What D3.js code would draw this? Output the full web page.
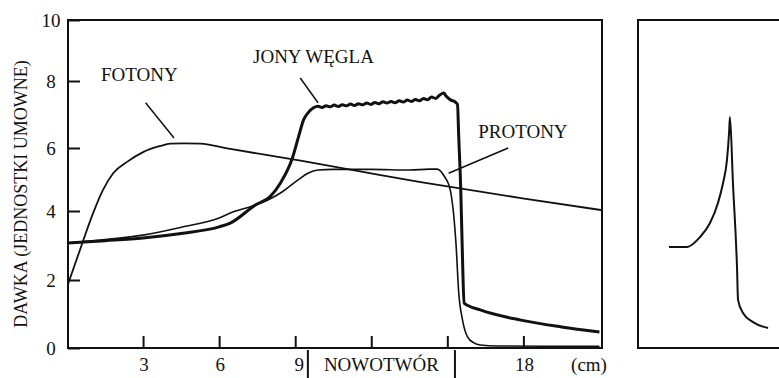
<!DOCTYPE html>
<html>
<head>
<meta charset="utf-8">
<script src="https://cdn.jsdelivr.net/npm/d3@7"></script>
<style>
  body { margin: 0; background: #fff; }
</style>
</head>
<body>
<script>
// depth in cm, dose in arbitrary units
let fotonyX = [0.05, 0.5, 1.03, 1.42, 1.82, 2.37, 3.0, 3.68, 4.07, 4.6, 5.26, 6.44, 9.21, 12.37, 13.95, 17.9, 21.07];
let fotonyY = [1.9, 2.85, 3.94, 4.67, 5.2, 5.56, 5.87, 6.06, 6.13, 6.14, 6.13, 5.97, 5.6, 5.14, 4.92, 4.41, 4.03];

let weglaX = [0, 1.5, 3, 4.5, 6, 6.44, 7.43, 8.0, 8.42, 8.89, 9.13, 9.33, 9.53, 9.72,
              9.90, 10.06, 10.22, 10.38, 10.54, 10.70, 10.86, 11.02, 11.18, 11.34, 11.50, 11.66, 11.82, 11.98,
              12.14, 12.30, 12.46, 12.62, 12.78, 12.94, 13.10, 13.26, 13.42, 13.58, 13.74, 13.90, 14.06, 14.22,
              14.38, 14.54, 14.70, 14.86, 14.95, 15.14, 15.3, 15.4, 15.45, 15.53, 15.6, 15.66, 16.3, 17.9, 19.5, 21.0];
let weglaY = [3.07, 3.14, 3.22, 3.35, 3.54, 3.65, 4.19, 4.45, 4.89, 5.68, 6.33, 6.84, 7.07, 7.2,
              7.25, 7.21, 7.26, 7.23, 7.28, 7.24, 7.29, 7.26, 7.31, 7.27, 7.32, 7.29, 7.34, 7.30,
              7.36, 7.32, 7.38, 7.34, 7.39, 7.35, 7.41, 7.37, 7.43, 7.39, 7.45, 7.41, 7.48, 7.44,
              7.52, 7.48, 7.58, 7.64, 7.55, 7.43, 7.38, 7.3, 6.33, 4.67, 2.58, 1.32, 1.12, 0.82, 0.62, 0.47];

let protonyX = [0, 1.5, 3, 4.5, 6, 6.44, 7.43, 8.0, 8.42, 9.1, 9.5, 9.9, 10.5, 12, 13.5, 14.3, 14.6, 14.9, 15.06,
                15.14, 15.34, 15.45, 15.6, 15.8, 16.05, 16.3, 17, 19, 21];
let protonyY = [3.07, 3.17, 3.3, 3.53, 3.8, 3.94, 4.19, 4.38, 4.57, 4.98, 5.2, 5.3, 5.32, 5.32, 5.3, 5.33, 5.33, 5.08, 4.83,
                4.57, 3.07, 1.62, 0.82, 0.32, 0.15, 0.09, 0.06, 0.05, 0.05];

// inset: single beam Bragg peak (no units)
let peakX = [2.07, 3.27, 4.13, 4.8, 5.33, 5.67, 5.93, 6.07, 6.13, 6.33, 6.6, 6.67, 7.0, 7.67, 8.67];
let peakY = [3.08, 3.08, 3.38, 3.81, 4.42, 5.03, 5.73, 6.55, 7.04, 5.03, 2.47, 1.46, 1.07, 0.79, 0.61];

let yTicks = [0, 2, 4, 6, 8, 10];
let xTicks = [3, 6, 9, 12, 15, 18];
let xTickLabels = ['3', '6', '9', '', '', '18'];
let tumor = [9.5, 15.3];

let svg = d3.select('body').append('svg')
            .attr('width', 779)
            .attr('height', 378)
            .attr('font-family', '"Liberation Serif", "Times New Roman", Times, "DejaVu Serif", serif')
            .attr('fill', '#111');

let x = d3.scaleLinear().domain([0, 21.1]).range([67, 602]);
// scanned figure: tick spacing is uneven, so follow the printed ticks
let y = d3.scaleLinear().domain(yTicks).range([348, 280, 211, 148, 81, 20]);

let toPts = (xs, ys) => xs.map((d, i) => [d, ys[i]]);

let line = d3.line()
             .x((d) => x(d[0]))
             .y((d) => y(d[1]))
             .curve(d3.curveMonotoneX);

// frame
svg.append('rect')
   .attr('x', x(0) + 1).attr('y', y(10))
   .attr('width', x(21.1) - x(0) - 1).attr('height', y(0) - y(10))
   .attr('fill', 'none').attr('stroke', '#111').attr('stroke-width', 2);

let yAxis = d3.axisRight(y).tickValues(yTicks).tickSize(12).tickFormat('');
svg.append('g').attr('transform', 'translate(' + (x(0) + 1) + ',0)').call(yAxis)
   .call(g => g.select('.domain').remove())
   .selectAll('line').attr('stroke', '#111').attr('stroke-width', 2);

svg.selectAll('text.ylab')
   .data(yTicks).enter().append('text')
   .attr('class', 'ylab')
   .attr('x', 51).attr('y', (d) => y(d) + 7)
   .attr('text-anchor', 'middle')
   .attr('font-size', 19)
   .text((d) => d);

let xAxis = d3.axisTop(x).tickValues(xTicks).tickSize(12).tickFormat('');
svg.append('g').attr('transform', 'translate(0,' + y(0) + ')').call(xAxis)
   .call(g => g.select('.domain').remove())
   .selectAll('line').attr('stroke', '#111').attr('stroke-width', 2);

svg.selectAll('text.xlab')
   .data(xTicks).enter().append('text')
   .attr('class', 'xlab')
   .attr('x', (d, i) => x(d) + (i == 2 ? 4 : 1)).attr('y', 371)
   .attr('text-anchor', 'middle')
   .attr('font-size', 19)
   .text((d, i) => xTickLabels[i]);

svg.append('text').attr('x', 589).attr('y', 371).attr('text-anchor', 'middle')
   .attr('font-size', 19).text('(cm)');

// tumour region markers
svg.selectAll('line.tumor')
   .data(tumor).enter().append('line')
   .attr('class', 'tumor')
   .attr('x1', (d) => x(d)).attr('x2', (d) => x(d))
   .attr('y1', y(0) + 2).attr('y2', 378)
   .attr('stroke', '#111').attr('stroke-width', 2);

svg.append('text').attr('x', (x(tumor[0]) + x(tumor[1])) / 2).attr('y', 371)
   .attr('text-anchor', 'middle').attr('font-size', 19).text('NOWOTWÓR');

svg.append('text')
   .attr('transform', 'translate(27,' + ((y(0) + y(10)) / 2 + 10) + ') rotate(-90)')
   .attr('text-anchor', 'middle')
   .attr('font-size', 18)
   .text('DAWKA (JEDNOSTKI UMOWNE)');

// curves
svg.append('path').attr('d', line(toPts(fotonyX, fotonyY)))
   .attr('fill', 'none').attr('stroke', '#111').attr('stroke-width', 1.8);
svg.append('path').attr('d', line(toPts(protonyX, protonyY)))
   .attr('fill', 'none').attr('stroke', '#111').attr('stroke-width', 1.6);
svg.append('path').attr('d', line(toPts(weglaX, weglaY)))
   .attr('fill', 'none').attr('stroke', '#111').attr('stroke-width', 3);

// labels and leaders
let notes = [
  { text: 'FOTONY', tx: 2.85, ty: 8.0, lx: [3.1, 4.22], ly: [7.35, 6.3] },
  { text: 'JONY WĘGLA', tx: 9.72, ty: 8.6, lx: [9.2, 9.9], ly: [8.1, 7.35] },
  { text: 'PROTONY', tx: 17.98, ty: 6.3, lx: [17.4, 15.05], ly: [6.0, 5.2] }
];
notes.forEach((n) => {
  svg.append('text').attr('x', x(n.tx)).attr('y', y(n.ty))
     .attr('text-anchor', 'middle').attr('font-size', 19).text(n.text);
  svg.append('line')
     .attr('x1', x(n.lx[0])).attr('y1', y(n.ly[0]))
     .attr('x2', x(n.lx[1])).attr('y2', y(n.ly[1]))
     .attr('stroke', '#111').attr('stroke-width', 1.5);
});

// inset panel
let ix = d3.scaleLinear().domain([0, 10]).range([638, 788]);
let iy = d3.scaleLinear().domain([0, 10]).range([348, 20]);

svg.append('rect')
   .attr('x', ix(0)).attr('y', iy(10))
   .attr('width', ix(10) - ix(0)).attr('height', iy(0) - iy(10))
   .attr('fill', 'none').attr('stroke', '#111').attr('stroke-width', 2);

let iline = d3.line()
              .x((d) => ix(d[0]))
              .y((d) => iy(d[1]))
              .curve(d3.curveMonotoneX);

svg.append('path').attr('d', iline(toPts(peakX, peakY)))
   .attr('fill', 'none').attr('stroke', '#111').attr('stroke-width', 2);
</script>
</body>
</html>
